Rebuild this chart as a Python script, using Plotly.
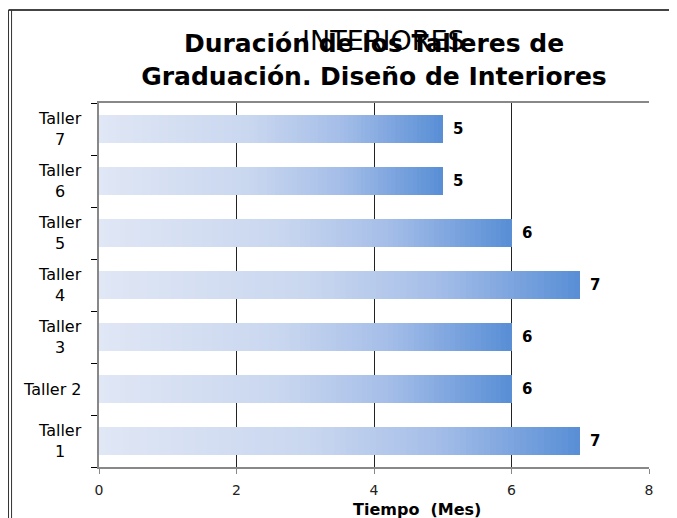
import plotly.graph_objects as go

# ---- data ----
categories = ["Taller 1", "Taller 2", "Taller 3", "Taller 4", "Taller 5", "Taller 6", "Taller 7"]
category_labels = ["Taller<br>1", "Taller 2", "Taller<br>3", "Taller<br>4", "Taller<br>5", "Taller<br>6", "Taller<br>7"]
durations = [7, 6, 6, 7, 6, 5, 5]
x_ticks = [0, 2, 4, 6, 8]
title_text = "Duración de los Talleres de<br>Graduación. Diseño de Interiores"
overlay_text = "INTERIORES"
x_title = "Tiempo  (Mes)"

# ---- gradient (light -> blue along each bar) ----
stops = [(0.0, (224, 231, 245)), (0.45, (200, 214, 239)), (0.7, (165, 190, 232)), (1.0, (88, 142, 214))]


def grad(t):
    for (t0, c0), (t1, c1) in zip(stops[:-1], stops[1:]):
        if t <= t1:
            f = (t - t0) / (t1 - t0) if t1 > t0 else 0
            return "rgb(%d,%d,%d)" % tuple(round(a + (b - a) * f) for a, b in zip(c0, c1))
    return "rgb(%d,%d,%d)" % stops[-1][1]


N = 80
fig = go.Figure()
for i in range(N):
    fig.add_trace(go.Bar(
        y=categories,
        x=[v / N for v in durations],
        orientation="h",
        marker=dict(color=grad((i + 0.5) / N), line=dict(width=0)),
        showlegend=False,
        hoverinfo="skip",
    ))

SANS = "DejaVu Sans"

annotations = []
# value labels
for c, v in zip(categories, durations):
    annotations.append(dict(x=v, y=c, xref="x", yref="y", text="<b>%d</b>" % v,
                            showarrow=False, xanchor="left", xshift=8,
                            font=dict(family=SANS, size=15, color="#000")))
# category labels (centered multi-line)
for c, lab in zip(categories, category_labels):
    annotations.append(dict(x=-0.027, y=c, xref="paper", yref="y", text=lab,
                            showarrow=False, xanchor="right", align="center",
                            font=dict(family=SANS, size=16, color="#000")))
# overlapping subtitle text
annotations.append(dict(x=0.518, y=1.171, xref="paper", yref="paper",
                        text=overlay_text, showarrow=False, xanchor="center", yanchor="middle",
                        font=dict(family=SANS, size=27, color="#000")))
# x axis title
annotations.append(dict(x=0.578, y=-0.117, xref="paper", yref="paper", text="<b>%s</b>" % x_title,
                        showarrow=False, xanchor="center", yanchor="middle",
                        font=dict(family=SANS, size=16, color="#000")))

shapes = [
    dict(type="line", xref="paper", yref="paper", x0=-0.1645, x1=1.1, y0=1.2555, y1=1.2555,
         line=dict(color="#444", width=2), layer="above"),
    dict(type="line", xref="paper", yref="paper", x0=-0.1645, x1=-0.1645, y0=1.2555, y1=-0.2,
         line=dict(color="#333", width=1), layer="above"),
    dict(type="line", xref="paper", yref="paper", x0=-0.159, x1=-0.159, y0=1.2555, y1=-0.2,
         line=dict(color="#333", width=1), layer="above"),
]

W, H = 669, 510
fig.update_layout(
    width=W, height=H,
    margin=dict(l=91, r=28, t=95, b=51),
    paper_bgcolor="white", plot_bgcolor="white",
    barmode="stack", bargap=0.46,
    title=dict(text="<b>%s</b>" % title_text, x=0.5, xref="paper", xanchor="center",
               y=1 - 44 / H, yref="container", yanchor="top",
               font=dict(family=SANS, size=25, color="#000")),
    xaxis=dict(range=[0, 8], tickvals=x_ticks, ticktext=[str(t) for t in x_ticks],
               showgrid=True, gridcolor="#222", gridwidth=1, zeroline=False,
               showline=True, linecolor="#888", linewidth=2, mirror=True,
               ticks="outside", ticklen=5, tickcolor="#888",
               ticklabelstandoff=4,
               tickfont=dict(family=SANS, size=14, color="#222")),
    yaxis=dict(type="category", categoryorder="array", categoryarray=categories,
               range=[-0.5, len(categories) - 0.5],
               showticklabels=False, showgrid=False, zeroline=False,
               showline=True, linecolor="#888", linewidth=2,
               ticks="outside", tickson="boundaries", ticklen=6, tickcolor="#000"),
    annotations=annotations,
    shapes=shapes,
)

fig.write_html("out.html")
